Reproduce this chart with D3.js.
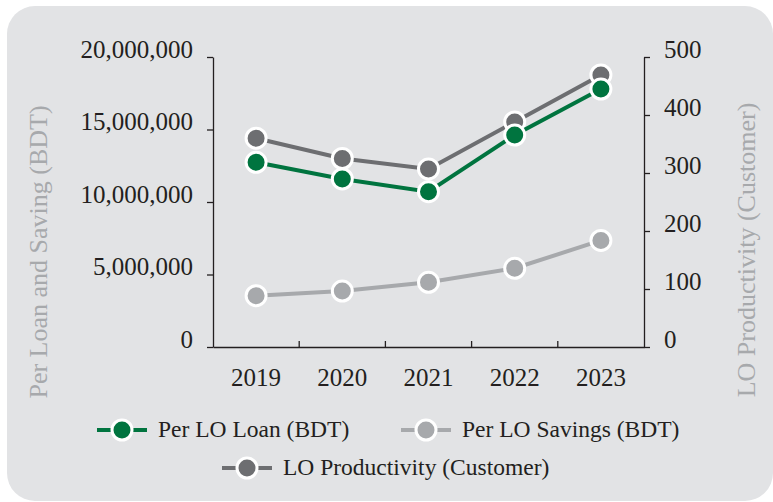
<!DOCTYPE html>
<html>
<head>
<meta charset="utf-8">
<script src="https://cdn.jsdelivr.net/npm/d3@7"></script>
<style>
  body { margin: 0; background: #fff; }
  text { font-family: "Liberation Serif", "Times New Roman", serif; }
</style>
</head>
<body>
<div id="chart"></div>
<script>
var years = ["2019", "2020", "2021", "2022", "2023"];
var perLoLoan = [12740000, 11590000, 10710000, 14620000, 17790000];
var perLoSavings = [3540000, 3860000, 4460000, 5430000, 7350000];
var loProductivity = [360, 325, 307, 388, 469];
var leftTicks = [0, 5000000, 10000000, 15000000, 20000000];
var rightTicks = [0, 100, 200, 300, 400, 500];

var svg = d3.select("#chart")
            .append("svg")
            .attr("width", 773)
            .attr("height", 502);

// background panel
svg.append("rect")
   .attr("x", 7).attr("y", 6)
   .attr("width", 766).attr("height", 495)
   .attr("rx", 28).attr("ry", 28)
   .attr("fill", "#e2e3e5");

var margin = {top: 57, right: 129, bottom: 155, left: 213},
    width = 773 - margin.left - margin.right,
    height = 502 - margin.top - margin.bottom,
    g = svg.append("g").attr("transform", "translate(" + margin.left + "," + margin.top + ")");

var x = d3.scaleBand().domain(years).range([0, width]);
var yL = d3.scaleLinear().domain([0, 20000000]).range([height, 0]);
var yR = d3.scaleLinear().domain([0, 500]).range([height, 0]);

var fmt = d3.format(",");

// left axis
var leftAxis = g.append("g")
  .call(d3.axisLeft(yL).tickValues(leftTicks).tickFormat(fmt).tickSize(6).tickSizeOuter(0));
leftAxis.selectAll("text").attr("x", -20).attr("dy", "0");

// right axis
var rightAxis = g.append("g")
  .attr("transform", "translate(" + width + ",0)")
  .call(d3.axisRight(yR).tickValues(rightTicks).tickSize(6).tickSizeOuter(0));
rightAxis.selectAll("text").attr("x", 20).attr("dy", "0");

// bottom axis, ticks between categories
var bottomAxis = g.append("g")
  .attr("transform", "translate(0," + height + ")")
  .call(d3.axisBottom(x).tickSize(0).tickSizeOuter(0));
bottomAxis.selectAll("text").attr("y", 21);
bottomAxis.selectAll(".between")
  .data(years.slice(1))
  .enter().append("line")
  .attr("x1", function(d) { return x(d); })
  .attr("x2", function(d) { return x(d); })
  .attr("y1", 0).attr("y2", -6)
  .attr("stroke", "#231f20");

[leftAxis, rightAxis, bottomAxis].forEach(function(a) {
  a.selectAll("path, line").attr("stroke", "#231f20").attr("stroke-width", 1.3);
  a.selectAll("text")
   .attr("fill", "#231f20")
   .style("font-family", "'Liberation Serif', serif")
   .style("font-size", "25px");
});

// axis titles
svg.append("text")
   .attr("transform", "translate(47,252) rotate(-90)")
   .attr("text-anchor", "middle")
   .attr("fill", "#a7a9ac")
   .style("font-size", "26px")
   .text("Per Loan and Saving (BDT)");

svg.append("text")
   .attr("transform", "translate(755,250) rotate(-90)")
   .attr("text-anchor", "middle")
   .attr("fill", "#a7a9ac")
   .style("font-size", "26px")
   .text("LO Productivity (Customer)");

var series = [
  {name: "Per LO Savings (BDT)", values: perLoSavings, scale: yL, color: "#a7a9ac"},
  {name: "LO Productivity (Customer)", values: loProductivity, scale: yR, color: "#6d6e71"},
  {name: "Per LO Loan (BDT)", values: perLoLoan, scale: yL, color: "#00743f"}
];

series.forEach(function(s) {
  var line = d3.line()
    .x(function(d, i) { return x(years[i]) + x.bandwidth() / 2; })
    .y(function(d) { return s.scale(d); });
  g.append("path")
   .datum(s.values)
   .attr("d", line)
   .attr("fill", "none")
   .attr("stroke", s.color)
   .attr("stroke-width", 4);
  g.selectAll(null)
   .data(s.values)
   .enter().append("circle")
   .attr("cx", function(d, i) { return x(years[i]) + x.bandwidth() / 2; })
   .attr("cy", function(d) { return s.scale(d); })
   .attr("r", 10)
   .attr("fill", s.color)
   .attr("stroke", "#fff")
   .attr("stroke-width", 3);
});

// legend
var legendItems = [
  {name: "Per LO Loan (BDT)", color: "#00743f", x: 97, y: 430},
  {name: "Per LO Savings (BDT)", color: "#a7a9ac", x: 401, y: 430},
  {name: "LO Productivity (Customer)", color: "#6d6e71", x: 222, y: 468}
];
var lg = svg.selectAll(".legend")
  .data(legendItems)
  .enter().append("g")
  .attr("class", "legend")
  .attr("transform", function(d) { return "translate(" + d.x + "," + d.y + ")"; });
lg.append("line")
  .attr("x1", 0).attr("x2", 50)
  .attr("stroke", function(d) { return d.color; })
  .attr("stroke-width", 4);
lg.append("circle")
  .attr("cx", 25).attr("r", 10)
  .attr("fill", function(d) { return d.color; })
  .attr("stroke", "#fff").attr("stroke-width", 3);
lg.append("text")
  .attr("x", 61).attr("dy", "0.3em")
  .attr("fill", "#231f20")
  .style("font-size", "23.5px")
  .text(function(d) { return d.name; });
</script>
</body>
</html>
